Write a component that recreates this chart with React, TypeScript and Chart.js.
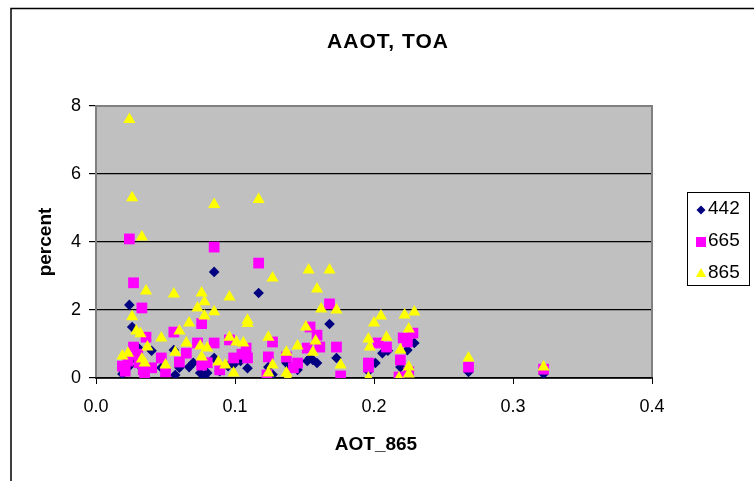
import React, { useEffect, useRef } from "react";
import { Chart, registerables } from "chart.js";

Chart.register(...registerables);

const CHART_TITLE = "AAOT, TOA";
const X_TITLE = "AOT_865";
const Y_TITLE = "percent";
const SERIES_NAMES = ["442", "665", "865"];
const SERIES_COLORS = ["#000080", "#FF00FF", "#FFFF00"];
const X_TICK_STEP = 0.1;
const X_MIN = 0;
const X_MAX = 0.4;
const Y_TICK_STEP = 2;
const Y_MIN = 0;
const Y_MAX = 8;

// [AOT_865, percent]
const series442: [number, number][] = [
  [0.024, 2.15], [0.026, 1.5], [0.019, 0.12], [0.019, 0.25], [0.024, 0.35], [0.027, 0.6],
  [0.030, 0.9], [0.033, 0.3], [0.035, 0.2], [0.040, 0.8], [0.047, 0.3], [0.050, 0.25],
  [0.056, 0.82], [0.057, 0.09], [0.060, 0.3], [0.067, 0.32], [0.070, 0.45], [0.075, 0.15],
  [0.078, 0.03], [0.080, 0.15], [0.085, 3.12], [0.085, 0.59], [0.089, 0.2], [0.095, 0.35],
  [0.099, 0.4], [0.104, 0.5], [0.109, 0.29], [0.117, 2.5], [0.124, 0.32], [0.127, 0.1],
  [0.137, 0.44], [0.140, 0.3], [0.145, 0.24], [0.152, 0.5], [0.154, 0.59], [0.156, 0.53],
  [0.159, 0.44], [0.168, 1.59], [0.173, 0.59], [0.196, 0.2], [0.201, 0.44], [0.206, 0.73],
  [0.210, 0.8], [0.219, 0.32], [0.224, 0.82], [0.229, 1.03], [0.268, 0.18], [0.322, 0.12],
];

const series665: [number, number][] = [
  [0.024, 4.09], [0.027, 2.8], [0.033, 2.06], [0.036, 1.2], [0.027, 0.91], [0.019, 0.35],
  [0.034, 0.24], [0.035, 0.15], [0.023, 0.5], [0.030, 0.7], [0.047, 0.59], [0.050, 0.18],
  [0.056, 1.35], [0.060, 0.47], [0.065, 0.73], [0.073, 1.03], [0.076, 1.6], [0.076, 0.38],
  [0.085, 3.85], [0.085, 1.03], [0.089, 0.24], [0.096, 1.12], [0.099, 0.59], [0.108, 0.88],
  [0.109, 0.59], [0.117, 3.38], [0.124, 0.62], [0.123, 0.09], [0.127, 1.06], [0.137, 0.62],
  [0.145, 0.44], [0.152, 0.88], [0.154, 1.5], [0.159, 1.26], [0.161, 0.91], [0.168, 2.18],
  [0.173, 0.91], [0.176, 0.06], [0.196, 0.44], [0.196, 0.32], [0.203, 1.03], [0.209, 0.91],
  [0.218, 0.03], [0.219, 0.53], [0.221, 1.18], [0.224, 1.06], [0.225, 0.18], [0.228, 1.32],
  [0.268, 0.32], [0.322, 0.26], [0.080, 0.45], [0.105, 0.7], [0.142, 0.3], [0.031, 0.45],
  [0.040, 0.3], [0.021, 0.2],
];

const series865: [number, number][] = [
  [0.024, 7.6], [0.026, 5.3], [0.033, 4.15], [0.085, 5.1], [0.117, 5.25], [0.127, 2.94],
  [0.036, 2.56], [0.056, 2.47], [0.076, 2.5], [0.078, 2.24], [0.096, 2.38], [0.073, 2.06],
  [0.085, 1.95], [0.078, 1.82], [0.026, 1.8], [0.109, 1.7], [0.109, 1.6], [0.067, 1.62],
  [0.060, 1.38], [0.029, 1.38], [0.032, 1.3], [0.047, 1.18], [0.124, 1.2], [0.065, 1.03],
  [0.096, 1.2], [0.101, 1.06], [0.106, 1.03], [0.075, 0.94], [0.080, 0.88], [0.037, 0.91],
  [0.137, 0.76], [0.019, 0.65], [0.023, 0.73], [0.057, 0.76], [0.076, 0.62], [0.033, 0.56],
  [0.035, 0.44], [0.050, 0.38], [0.088, 0.47], [0.093, 0.38], [0.099, 0.15], [0.127, 0.38],
  [0.124, 0.15], [0.137, 0.15], [0.153, 3.18], [0.168, 3.18], [0.159, 2.62], [0.162, 2.03],
  [0.173, 2.0], [0.151, 1.5], [0.158, 1.09], [0.145, 0.94], [0.156, 0.76], [0.176, 0.38],
  [0.138, 0.0], [0.200, 1.62], [0.205, 1.82], [0.196, 1.15], [0.209, 1.2], [0.197, 0.91],
  [0.196, 0.0], [0.222, 1.85], [0.229, 1.94], [0.225, 1.44], [0.219, 0.82], [0.225, 0.32],
  [0.225, 0.12], [0.218, 0.0], [0.268, 0.59], [0.322, 0.32],
];

const FONT = "'Liberation Sans', Arial, sans-serif";

const toPoints = (s: [number, number][]) => s.map(([x, y]) => ({ x, y }));

function drawMarker(ctx: CanvasRenderingContext2D, kind: number, x: number, y: number, color: string) {
  ctx.save();
  ctx.fillStyle = color;
  ctx.beginPath();
  if (kind === 0) {
    const r = 4.5;
    ctx.moveTo(x, y - r);
    ctx.lineTo(x + r, y);
    ctx.lineTo(x, y + r);
    ctx.lineTo(x - r, y);
  } else if (kind === 1) {
    const h = 5;
    ctx.rect(x - h, y - h, 2 * h, 2 * h);
  } else {
    const r = 6;
    ctx.moveTo(x, y - r);
    ctx.lineTo(x + r * 0.866, y + r * 0.5);
    ctx.lineTo(x - r * 0.866, y + r * 0.5);
  }
  ctx.closePath();
  ctx.fill();
  ctx.restore();
}

const decorPlugin = {
  id: "decor",
  beforeDraw(chart: any) {
    const { ctx, chartArea: a, width, height } = chart;
    ctx.save();
    ctx.fillStyle = "#FFFFFF";
    ctx.fillRect(0, 0, width, height);
    ctx.strokeStyle = "#000000";
    ctx.lineWidth = 1.5;
    ctx.strokeRect(11, 8.5, width + 20, height + 20);
    ctx.fillStyle = "#C0C0C0";
    ctx.fillRect(a.left, a.top, a.right - a.left, a.bottom - a.top);
    ctx.restore();
  },
  beforeDatasetsDraw(chart: any) {
    const { ctx, chartArea: a } = chart;
    ctx.save();
    ctx.strokeStyle = "#808080";
    ctx.lineWidth = 2;
    ctx.beginPath();
    ctx.moveTo(a.left, a.bottom);
    ctx.lineTo(a.left, a.top);
    ctx.lineTo(a.right, a.top);
    ctx.lineTo(a.right, a.bottom);
    ctx.stroke();
    ctx.strokeStyle = "#000000";
    ctx.lineWidth = 1.5;
    ctx.beginPath();
    ctx.moveTo(a.left - 1, a.bottom);
    ctx.lineTo(a.right + 1, a.bottom);
    ctx.stroke();
    ctx.restore();
  },
  afterDraw(chart: any) {
    const { ctx, chartArea: a } = chart;
    ctx.save();
    ctx.fillStyle = "#000000";
    ctx.textAlign = "center";
    ctx.textBaseline = "middle";
    ctx.font = `bold 21px ${FONT}`;
    (ctx as any).letterSpacing = "1px";
    ctx.fillText(CHART_TITLE, 388, 42);
    (ctx as any).letterSpacing = "0px";
    ctx.font = `bold 19px ${FONT}`;
    ctx.fillText(X_TITLE, (a.left + a.right) / 2 + 2, 445);
    ctx.save();
    ctx.translate(46, (a.top + a.bottom) / 2);
    ctx.rotate(-Math.PI / 2);
    ctx.fillText(Y_TITLE, 0, 0);
    ctx.restore();

    // legend
    const lx = 687, ly = 192, lw = 62, lh = 93;
    ctx.fillStyle = "#FFFFFF";
    ctx.fillRect(lx, ly, lw, lh);
    ctx.strokeStyle = "#000000";
    ctx.lineWidth = 1;
    ctx.strokeRect(lx + 0.5, ly + 0.5, lw, lh);
    ctx.font = `19px ${FONT}`;
    ctx.textAlign = "left";
    SERIES_NAMES.forEach((name, i) => {
      const cy = 209 + i * 32;
      drawMarker(ctx, i, 701, cy + 1, SERIES_COLORS[i]);
      ctx.fillStyle = "#000000";
      ctx.fillText(name, 708, cy);
    });
    ctx.restore();
  },
};

export default function App() {
  const ref = useRef<HTMLCanvasElement | null>(null);
  useEffect(() => {
    if (!ref.current) return;
    const styles = ["rectRot", "rect", "triangle"];
    const radii = [5.3, 7.6, 7];
    const all = [series442, series665, series865];
    const chart = new Chart(ref.current, {
      type: "scatter",
      data: {
        datasets: all.map((s, i) => ({
          label: SERIES_NAMES[i],
          data: toPoints(s),
          order: 3 - i,
          pointStyle: styles[i] as any,
          pointRadius: radii[i],
          pointHoverRadius: radii[i],
          pointBorderWidth: 0,
          borderWidth: 0,
          backgroundColor: SERIES_COLORS[i],
          borderColor: SERIES_COLORS[i],
        })),
      },
      options: {
        responsive: false,
        animation: false,
        events: [],
        layout: { padding: { left: 0, top: 106, right: 102, bottom: 0 } },
        plugins: {
          legend: { display: false },
          title: { display: false },
          tooltip: { enabled: false },
        },
        scales: {
          x: {
            type: "linear",
            min: X_MIN,
            max: X_MAX,
            afterFit: (s: any) => { s.height = 103; },
            ticks: {
              stepSize: X_TICK_STEP,
              color: "#000000",
              font: { family: FONT, size: 18 },
              padding: 12,
              maxRotation: 0,
              callback: (v: any) => Number(v).toFixed(1),
            },
            grid: { drawOnChartArea: false, drawTicks: true, tickLength: 6, color: "#000000" },
            border: { display: false },
          },
          y: {
            type: "linear",
            min: Y_MIN,
            max: Y_MAX,
            afterFit: (s: any) => { s.width = 96; },
            ticks: {
              stepSize: Y_TICK_STEP,
              color: "#000000",
              font: { family: FONT, size: 18 },
              padding: 8,
            },
            grid: { drawOnChartArea: true, drawTicks: true, tickLength: 7, color: "#000000", lineWidth: 1.2 },
            border: { display: false },
          },
        },
      },
      plugins: [decorPlugin],
    });
    return () => chart.destroy();
  }, []);
  return (
    <div style={{ position: "fixed", left: 0, top: 0, width: 754, height: 481, background: "#fff" }}>
      <canvas ref={ref} width={754} height={481} style={{ width: 754, height: 481, display: "block" }} />
    </div>
  );
}
